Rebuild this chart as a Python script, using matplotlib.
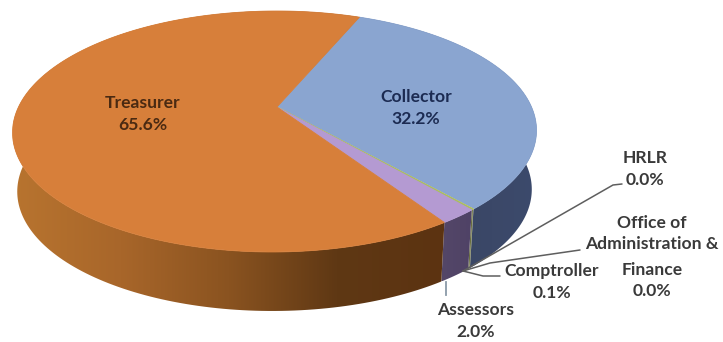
import numpy as np
import matplotlib
matplotlib.use("Agg")
import matplotlib.pyplot as plt
from matplotlib.patches import Polygon
from matplotlib.colors import LinearSegmentedColormap

# Data, clockwise from the top of the pie
departments = ["Collector", "HRLR", "Office of\nAdministration &\nFinance", "Comptroller", "Assessors", "Treasurer"]
shares = [32.2, 0.02, 0.02, 0.1, 2.0, 65.6]
share_labels = ["32.2%", "0.0%", "0.0%", "0.1%", "2.0%", "65.6%"]

top_colors = ["#8aa5d0", "#c9d27a", "#b5c06a", "#a8bc62", "#b49ad2", "#d77f3a"]
side_stops = [
    ["#3f4a68", "#3a4664", "#3c4a6c"],
    ["#6a7040", "#6a7040"],
    ["#6a7040", "#6a7040"],
    ["#6a7040", "#6a7040"],
    ["#544768", "#4f4266"],
    ["#b8742f", "#a8662a", "#8a5320", "#5f3814", "#5c3311"],
]

START_DEG = 22.5
X0, Y0 = 275.0, 107.0
APEX_X = 277.0
R, H, P, SHEAR = 256.5, 115.5, 0.2033, 0.02
DEPTH = 59.0
BOTTOM_SCALE = 0.982


def project(theta_deg):
    """Map a clockwise angle from 12 o'clock on the pie disc to the picture."""
    t = np.radians(theta_deg)
    u, v = np.sin(t), np.cos(t)
    w = 1 + P * v
    up = H * v / w
    return X0 + R * u / w + SHEAR * up, Y0 - up


fig = plt.figure(figsize=(7.23, 3.42), dpi=100)
ax = fig.add_axes([0, 0, 1, 1])

edges = START_DEG + np.concatenate([[0], np.cumsum(shares)]) / sum(shares) * 360.0

# Side wall
for i in range(len(shares)):
    th = np.linspace(edges[i], edges[i + 1], 200)
    x, y = project(th)
    xb = X0 + (x - X0) * BOTTOM_SCALE
    poly = np.vstack([np.column_stack([x, y]), np.column_stack([xb, y + DEPTH])[::-1]])
    patch = Polygon(poly, closed=True, facecolor="none", edgecolor="none")
    ax.add_patch(patch)
    cmap = LinearSegmentedColormap.from_list("s%d" % i, side_stops[i])
    xmin, xmax = poly[:, 0].min(), poly[:, 0].max()
    im = ax.imshow(np.linspace(0, 1, 256)[None, :], cmap=cmap, aspect="auto",
                   extent=[xmin, max(xmax, xmin + 1), poly[:, 1].max(), poly[:, 1].min()], zorder=2)
    im.set_clip_path(patch)

ax.set_xlim(0, 723)
ax.set_ylim(342, 0)
ax.axis("off")

# Top face
for i in range(len(shares)):
    th = np.linspace(edges[i], edges[i + 1], 200)
    x, y = project(th)
    pts = np.vstack([[APEX_X, Y0], np.column_stack([x, y])])
    ax.add_patch(Polygon(pts, closed=True, facecolor=top_colors[i],
                         edgecolor=top_colors[i], linewidth=0.6, zorder=3))

font = dict(family="Lato", fontweight="bold", fontsize=12.6, ha="center", va="center",
            linespacing=1.45, zorder=6)
grey = "#3a3a3a"
ax.text(143, 114, f"{departments[5]}\n{share_labels[5]}", color="#4a2a12", **font)
ax.text(416, 108, f"{departments[0]}\n{share_labels[0]}", color="#1c2b52", **font)
ax.text(645, 169, f"{departments[1]}\n{share_labels[1]}", color=grey, **font)
oaf_head, oaf_tail = departments[2].rsplit("\n", 1)
ax.text(652, 233.5, oaf_head, color=grey, **font)
ax.text(652, 280.5, f"{oaf_tail}\n{share_labels[2]}", color=grey, **font)
ax.text(552, 282, f"{departments[3]}\n{share_labels[3]}", color=grey, **font)
ax.text(476, 321, f"{departments[4]}\n{share_labels[4]}", color=grey, **font)

line = dict(color="#5e5e5e", linewidth=1.1, zorder=5, solid_capstyle="round")
ax.plot([463, 613, 622], [271, 185, 184], **line)
ax.plot([463, 490, 580], [271, 263, 250], **line)
ax.plot([463, 483, 500], [271, 276, 276], **line)
ax.plot([446, 446], [282, 295], color="#8a9aa8", linewidth=1.3, zorder=5)

fig.savefig("out.png", dpi=100)
